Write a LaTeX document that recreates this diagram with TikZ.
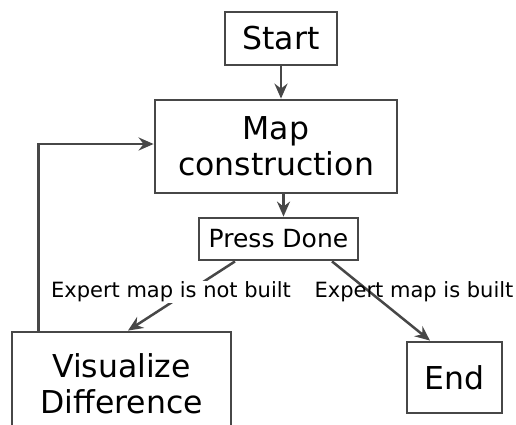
\documentclass[tikz,border=0pt]{standalone}
\usepackage{fontspec}
\setmainfont{DejaVu Sans}
\usetikzlibrary{arrows.meta,calc}
\definecolor{edgegray}{HTML}{474747}
\tikzset{
  box/.style={draw=edgegray, line width=2.8pt, fill=white, rectangle, inner sep=0pt, align=center},
  bigtext/.style={font=\fontsize{31.5}{36}\selectfont},
  midtext/.style={font=\fontsize{25}{28}\selectfont},
  lbl/.style={font=\fontsize{21}{24}\selectfont, inner sep=1pt},
  flow/.style={draw=edgegray, line width=2.5pt, -{Stealth[length=15pt, width=13pt, inset=5pt]}}
}
\begin{document}
\begin{tikzpicture}[x=1pt, y=-1pt]
  \useasboundingbox (0,0) rectangle (516,425);
  \clip (0,0) rectangle (516,425);

  % boxes
  \node[box, bigtext, minimum width=112pt, minimum height=53pt] (start) at (281,38.5) {Start};
  \node[box, bigtext, minimum width=242pt, minimum height=93pt] (map) at (276,146.5) {Map\\construction};
  \node[box, midtext, minimum width=159pt, minimum height=42pt] (press) at (278.5,239) {Press Done};
  \node[box, bigtext, minimum width=219pt, minimum height=104pt] (vis) at (121.5,384) {Visualize\\Difference};
  \node[box, bigtext, minimum width=95pt, minimum height=71pt] (end) at (454.5,377.5) {End};

  % connectors
  \draw[flow] (start.south) -- (start.south |- map.north);
  \draw[flow] ([xshift=7.5pt]map.south) -- ([xshift=5pt]press.north);
  \draw[flow] ([xshift=-43.5pt]press.south) -- ([xshift=6.5pt]vis.north);
  \draw[flow] ([xshift=53.5pt]press.south) -- ([xshift=-24.5pt]end.north);
  \draw[flow] ([xshift=28pt]vis.north west) |- ([yshift=2.5pt]map.west);

  % branch labels
  \node[lbl, fill=white] (notbuilt) at (171,292) {Expert map is not built};
  \node[lbl] (built) at (414,292) {Expert map is built};
\end{tikzpicture}
\end{document}
